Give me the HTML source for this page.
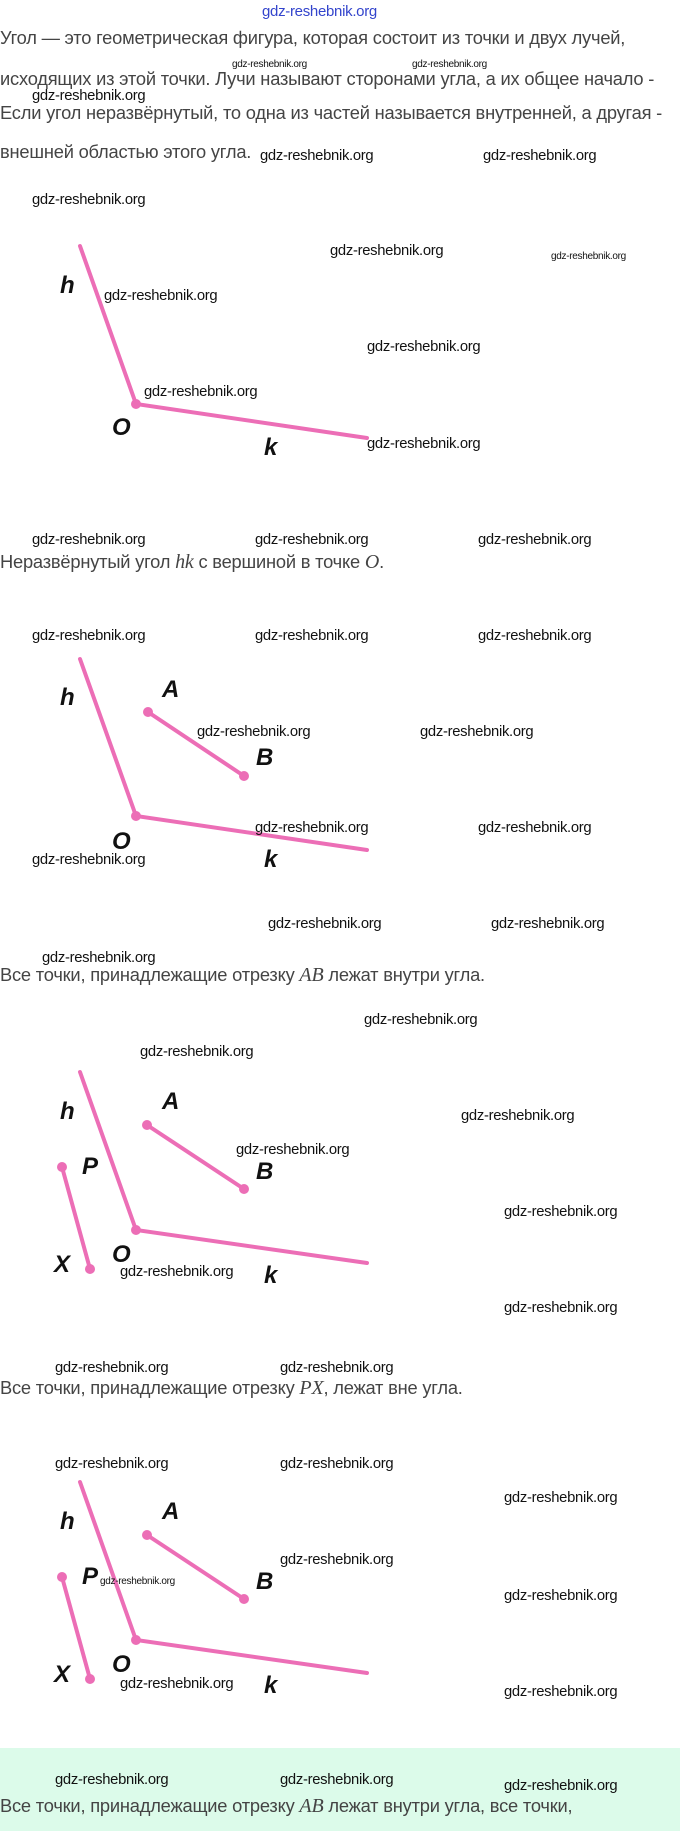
<!DOCTYPE html>
<html><head><meta charset="utf-8"><style>
body{margin:0;width:680px;height:1831px;position:relative;background:#fff;overflow:hidden;font-family:"Liberation Sans",sans-serif}
.t{position:absolute;left:0;white-space:nowrap;font-size:18.3px;color:#444;letter-spacing:-0.2px;line-height:20px}
.w{position:absolute;white-space:nowrap;font-size:14.8px;color:#111;line-height:18px;letter-spacing:-0.3px}
.s{font-size:10px}
.m{font-family:"Liberation Serif",serif;font-style:italic;font-size:20px}
.l{position:absolute;font-style:italic;font-weight:bold;font-size:24px;color:#111;line-height:24px}
svg{position:absolute;left:0;top:0}
</style></head><body>
<div style="position:absolute;left:0;top:1748px;width:680px;height:83px;background:#dcfbea"></div>
<div class="w" style="left:262px;top:3px;color:#3344cc;font-size:15px">gdz-reshebnik.org</div>
<div class="t" style="top:28px">Угол — это геометрическая фигура, которая состоит из точки и двух лучей,</div>
<div class="t" style="top:69px">исходящих из этой точки. Лучи называют сторонами угла, а их общее начало -</div>
<div class="t" style="top:103px">Если угол неразвёрнутый, то одна из частей называется внутренней, а другая -</div>
<div class="t" style="top:142px">внешней областью этого угла.</div>
<div class="t" style="top:552px">Неразвёрнутый угол <span class="m">hk</span> с вершиной в точке <span class="m">O</span>.</div>
<div class="t" style="top:965px">Все точки, принадлежащие отрезку <span class="m">AB</span> лежат внутри угла.</div>
<div class="t" style="top:1378px">Все точки, принадлежащие отрезку <span class="m">PX</span>, лежат вне угла.</div>
<div class="t" style="top:1796px">Все точки, принадлежащие отрезку <span class="m">AB</span> лежат внутри угла, все точки,</div>

<svg width="680" height="1831">
<g stroke="#ec6eb6" stroke-width="4" fill="#ec6eb6" stroke-linecap="round">
<polyline points="80,246 136,404 367,438" fill="none"/><circle cx="136" cy="404" r="5" stroke="none"/>
<polyline points="80,659 136,816 367,850" fill="none"/><circle cx="136" cy="816" r="5" stroke="none"/>
<line x1="148" y1="712" x2="244" y2="776"/><circle cx="148" cy="712" r="5" stroke="none"/><circle cx="244" cy="776" r="5" stroke="none"/>
<polyline points="80,1072 136,1230 367,1263" fill="none"/><circle cx="136" cy="1230" r="5" stroke="none"/>
<line x1="147" y1="1125" x2="244" y2="1189"/><circle cx="147" cy="1125" r="5" stroke="none"/><circle cx="244" cy="1189" r="5" stroke="none"/>
<line x1="62" y1="1167" x2="90" y2="1269"/><circle cx="62" cy="1167" r="5" stroke="none"/><circle cx="90" cy="1269" r="5" stroke="none"/>
<polyline points="80,1482 136,1640 367,1673" fill="none"/><circle cx="136" cy="1640" r="5" stroke="none"/>
<line x1="147" y1="1535" x2="244" y2="1599"/><circle cx="147" cy="1535" r="5" stroke="none"/><circle cx="244" cy="1599" r="5" stroke="none"/>
<line x1="62" y1="1577" x2="90" y2="1679"/><circle cx="62" cy="1577" r="5" stroke="none"/><circle cx="90" cy="1679" r="5" stroke="none"/>
</g></svg>

<div class="l" style="left:60px;top:274px">h</div><div class="l" style="left:112px;top:416px">O</div><div class="l" style="left:264px;top:436px">k</div>
<div class="l" style="left:60px;top:686px">h</div><div class="l" style="left:162px;top:678px">A</div><div class="l" style="left:256px;top:746px">B</div><div class="l" style="left:112px;top:830px">O</div><div class="l" style="left:264px;top:848px">k</div>
<div class="l" style="left:60px;top:1100px">h</div><div class="l" style="left:162px;top:1090px">A</div><div class="l" style="left:256px;top:1160px">B</div><div class="l" style="left:82px;top:1155px">P</div><div class="l" style="left:54px;top:1253px">X</div><div class="l" style="left:112px;top:1243px">O</div><div class="l" style="left:264px;top:1264px">k</div>
<div class="l" style="left:60px;top:1510px">h</div><div class="l" style="left:162px;top:1500px">A</div><div class="l" style="left:256px;top:1570px">B</div><div class="l" style="left:82px;top:1565px">P</div><div class="l" style="left:54px;top:1663px">X</div><div class="l" style="left:112px;top:1653px">O</div><div class="l" style="left:264px;top:1674px">k</div>

<div class="w s" style="left:232px;top:56px">gdz-reshebnik.org</div>
<div class="w s" style="left:412px;top:56px">gdz-reshebnik.org</div>
<div class="w" style="left:32px;top:87px">gdz-reshebnik.org</div>
<div class="w" style="left:260px;top:147px">gdz-reshebnik.org</div>
<div class="w" style="left:483px;top:147px">gdz-reshebnik.org</div>
<div class="w" style="left:32px;top:191px">gdz-reshebnik.org</div>
<div class="w" style="left:330px;top:242px">gdz-reshebnik.org</div>
<div class="w s" style="left:551px;top:248px">gdz-reshebnik.org</div>
<div class="w" style="left:104px;top:287px">gdz-reshebnik.org</div>
<div class="w" style="left:367px;top:338px">gdz-reshebnik.org</div>
<div class="w" style="left:144px;top:383px">gdz-reshebnik.org</div>
<div class="w" style="left:367px;top:435px">gdz-reshebnik.org</div>
<div class="w" style="left:32px;top:531px">gdz-reshebnik.org</div>
<div class="w" style="left:255px;top:531px">gdz-reshebnik.org</div>
<div class="w" style="left:478px;top:531px">gdz-reshebnik.org</div>
<div class="w" style="left:32px;top:627px">gdz-reshebnik.org</div>
<div class="w" style="left:255px;top:627px">gdz-reshebnik.org</div>
<div class="w" style="left:478px;top:627px">gdz-reshebnik.org</div>
<div class="w" style="left:197px;top:723px">gdz-reshebnik.org</div>
<div class="w" style="left:420px;top:723px">gdz-reshebnik.org</div>
<div class="w" style="left:255px;top:819px">gdz-reshebnik.org</div>
<div class="w" style="left:478px;top:819px">gdz-reshebnik.org</div>
<div class="w" style="left:32px;top:851px">gdz-reshebnik.org</div>
<div class="w" style="left:268px;top:915px">gdz-reshebnik.org</div>
<div class="w" style="left:491px;top:915px">gdz-reshebnik.org</div>
<div class="w" style="left:42px;top:949px">gdz-reshebnik.org</div>
<div class="w" style="left:364px;top:1011px">gdz-reshebnik.org</div>
<div class="w" style="left:140px;top:1043px">gdz-reshebnik.org</div>
<div class="w" style="left:461px;top:1107px">gdz-reshebnik.org</div>
<div class="w" style="left:236px;top:1141px">gdz-reshebnik.org</div>
<div class="w" style="left:504px;top:1203px">gdz-reshebnik.org</div>
<div class="w" style="left:120px;top:1263px">gdz-reshebnik.org</div>
<div class="w" style="left:504px;top:1299px">gdz-reshebnik.org</div>
<div class="w" style="left:55px;top:1359px">gdz-reshebnik.org</div>
<div class="w" style="left:280px;top:1359px">gdz-reshebnik.org</div>
<div class="w" style="left:55px;top:1455px">gdz-reshebnik.org</div>
<div class="w" style="left:280px;top:1455px">gdz-reshebnik.org</div>
<div class="w" style="left:504px;top:1489px">gdz-reshebnik.org</div>
<div class="w" style="left:280px;top:1551px">gdz-reshebnik.org</div>
<div class="w s" style="left:100px;top:1573px">gdz-reshebnik.org</div>
<div class="w" style="left:504px;top:1587px">gdz-reshebnik.org</div>
<div class="w" style="left:120px;top:1675px">gdz-reshebnik.org</div>
<div class="w" style="left:504px;top:1683px">gdz-reshebnik.org</div>
<div class="w" style="left:55px;top:1771px">gdz-reshebnik.org</div>
<div class="w" style="left:280px;top:1771px">gdz-reshebnik.org</div>
<div class="w" style="left:504px;top:1777px">gdz-reshebnik.org</div>
</body></html>
